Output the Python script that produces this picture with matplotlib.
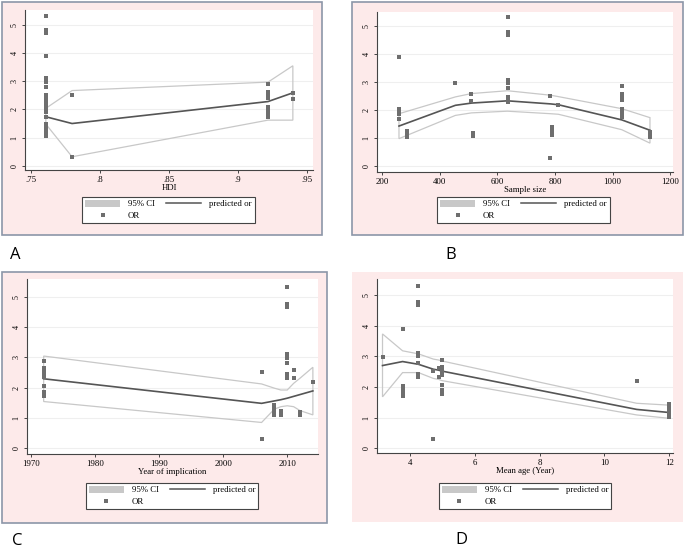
import numpy as np
import matplotlib
matplotlib.use("Agg")
import matplotlib.pyplot as plt
from matplotlib.patches import Rectangle, Patch
from matplotlib.lines import Line2D

# ---- Panel A: HDI ----
a_x = [0.761] * 21 + [0.78, 0.78] + [0.922] * 8 + [0.94, 0.94]
a_or = [5.33, 4.82, 4.70, 3.90, 3.10, 2.99, 2.78,
        2.50, 2.40, 2.30, 2.20, 2.10, 2.00, 1.90, 1.74, 1.50, 1.39, 1.30, 1.20, 1.10, 1.04,
        2.51, 0.32,
        2.89, 2.63, 2.51, 2.39, 2.10, 2.00, 1.86, 1.74,
        2.59, 2.36]
a_fx = [0.761, 0.78, 0.922, 0.94]
a_fit = [1.74, 1.50, 2.28, 2.59]
a_hi = [2.04, 2.67, 2.97, 3.55]
a_lo = [1.48, 0.32, 1.62, 1.62]

# ---- Panel B: Sample size ----
b_x = [258] * 5 + [285] * 3 + [454] + [508, 508] + [514, 514] + [635] * 9 + [783, 783] \
      + [789] * 4 + [812] + [1032] * 7 + [1130] * 3
b_or = [3.88, 2.05, 1.93, 1.85, 1.69,
        1.25, 1.15, 1.05,
        2.98,
        2.57, 2.32,
        1.19, 1.07,
        5.31, 4.80, 4.68, 3.07, 2.97, 2.77, 2.47, 2.37, 2.29,
        2.49, 0.29,
        1.40, 1.30, 1.20, 1.10,
        2.17,
        2.86, 2.59, 2.47, 2.37, 2.05, 1.90, 1.75,
        1.22, 1.13, 1.04]
b_fx = [258, 454, 510, 635, 785, 812, 1032, 1130]
b_fit = [1.43, 2.17, 2.25, 2.33, 2.22, 2.19, 1.65, 1.28]
b_hi = [1.87, 2.47, 2.59, 2.69, 2.53, 2.48, 2.05, 1.73]
b_lo = [0.98, 1.81, 1.90, 1.96, 1.87, 1.85, 1.30, 0.82]

# ---- Panel C: Year of implication ----
c_x = [1972] * 8 + [2006, 2006] + [2008] * 4 + [2009, 2009] + [2010] * 8 \
      + [2011, 2011] + [2012, 2012] + [2014]
c_or = [2.89, 2.64, 2.54, 2.44, 2.36, 2.05, 1.87, 1.73,
        2.51, 0.30,
        1.43, 1.32, 1.21, 1.10,
        1.23, 1.10,
        5.31, 4.76, 4.65, 3.11, 2.97, 2.80, 2.44, 2.33,
        2.58, 2.33,
        1.21, 1.08,
        2.20]
c_fx = [1972, 2006, 2008, 2009, 2010, 2011, 2012, 2014]
c_fit = [2.29, 1.48, 1.56, 1.60, 1.65, 1.71, 1.77, 1.89]
c_hi = [3.04, 2.12, 1.98, 1.92, 1.92, 2.14, 2.31, 2.67]
c_lo = [1.54, 0.85, 1.29, 1.37, 1.40, 1.37, 1.24, 1.10]

# ---- Panel D: Mean age ----
d_x = [3.15] + [3.77] * 5 + [4.26] * 8 + [4.72, 4.72] + [4.88, 4.88] + [4.98] * 7 \
      + [11.0] + [12.0] * 5
d_or = [2.99,
        3.88, 2.03, 1.90, 1.79, 1.71,
        5.30, 4.78, 4.67, 3.12, 3.01, 2.79, 2.42, 2.32,
        2.53, 0.30,
        2.61, 2.34,
        2.88, 2.64, 2.53, 2.39, 2.07, 1.90, 1.77,
        2.20,
        1.45, 1.35, 1.25, 1.14, 1.03]
d_fx = [3.15, 3.77, 4.26, 4.72, 4.88, 4.98, 11.0, 12.0]
d_fit = [2.70, 2.83, 2.74, 2.58, 2.55, 2.52, 1.27, 1.17]
d_hi = [3.73, 3.18, 3.08, 2.91, 2.88, 2.85, 1.47, 1.41]
d_lo = [1.68, 2.47, 2.47, 2.28, 2.25, 2.21, 1.09, 0.98]

W, H = 685, 549
PINK = "#fdeaea"
BORDER = "#8c96a8"
MARK = "#6e6e6e"
FIT = "#555555"
CI = "#c8c8c8"
SERIF = ["Liberation Serif", "DejaVu Serif"]

fig = plt.figure(figsize=(W / 100, H / 100), dpi=100)
fig.patch.set_facecolor("white")


def fbox(x0, y0, x1, y1):
    # pixel box (top-left origin) -> figure fraction [l, b, w, h]
    return [x0 / W, 1 - y1 / H, (x1 - x0) / W, (y1 - y0) / H]


def panel(box, border):
    l, b, w, h = fbox(*box)
    fig.patches.append(Rectangle((l, b), w, h, transform=fig.transFigure,
                                 facecolor=PINK,
                                 edgecolor=BORDER if border else "none",
                                 linewidth=1.2, zorder=-5))


def draw(axbox, x, o, fx, fit, lo, hi, xlim, ylim, xticks, xlabels, xlabel, legbox):
    ax = fig.add_axes(fbox(*axbox))
    ax.set_zorder(1)
    ax.set_facecolor("white")
    poly_x = list(fx) + list(fx[::-1])
    poly_y = list(hi) + list(lo[::-1])
    ax.fill(poly_x, poly_y, facecolor="none", edgecolor=CI, linewidth=0.9, zorder=2)
    ax.plot(fx, fit, color=FIT, linewidth=1.2, zorder=3)
    ax.plot(x, o, linestyle="none", marker="s", markersize=3.0,
            color=MARK, markeredgewidth=0, zorder=4)
    ax.set_xlim(*xlim)
    ax.set_ylim(*ylim)
    ax.set_yticks([0, 1, 2, 3, 4, 5])
    ax.set_yticklabels(["0", "1", "2", "3", "4", "5"], rotation=90, va="center",
                       family=SERIF, fontsize=5.8)
    ax.set_xticks(xticks)
    ax.set_xticklabels(xlabels, family=SERIF, fontsize=6.3)
    ax.grid(axis="y", color="#efefef", linewidth=0.8)
    ax.set_axisbelow(True)
    for s in ["top", "right"]:
        ax.spines[s].set_visible(False)
    for s in ["left", "bottom"]:
        ax.spines[s].set_color("#444444")
        ax.spines[s].set_linewidth(0.8)
    ax.tick_params(length=2.5, width=0.7, color="#444444", pad=2)
    ax.set_xlabel(xlabel, family=SERIF, fontsize=6.3, labelpad=0)

    handles = [Patch(facecolor="#c8c8c8", edgecolor="none"),
               Line2D([], [], linestyle="none", marker="s", markersize=3.0,
                      color=MARK, markeredgewidth=0),
               Line2D([], [], color=FIT, linewidth=1.1)]
    labels = ["95% CI", "OR", "predicted or"]
    l, b, w, h = fbox(*legbox)
    leg = fig.legend(handles, labels, ncol=2, loc="center",
                     bbox_to_anchor=(l + w / 2, b + h / 2),
                     prop={"family": SERIF, "size": 6.3},
                     frameon=True, fancybox=False, edgecolor="#444444",
                     facecolor="white", framealpha=1,
                     handlelength=4.0, handleheight=0.9, borderpad=0.35,
                     labelspacing=0.35, columnspacing=1.3, handletextpad=0.9)
    leg.get_frame().set_linewidth(0.8)
    return ax


panel((2, 2, 322, 235), True)
panel((352, 2, 683, 235), True)
panel((2, 272, 327, 523), True)
panel((352, 272, 683, 522), False)

draw((25, 10, 313, 170), a_x, a_or, a_fx, a_fit, a_lo, a_hi,
     (0.7459, 0.9546), (-0.15, 5.53),
     [0.75, 0.8, 0.85, 0.9, 0.95], [".75", ".8", ".85", ".9", ".95"], "HDI",
     (92, 197, 245, 223))

draw((377, 12, 673, 172), b_x, b_or, b_fx, b_fit, b_lo, b_hi,
     (181.6, 1210), (-0.21, 5.5),
     [200, 400, 600, 800, 1000, 1200], ["200", "400", "600", "800", "1000", "1200"],
     "Sample size", (445, 197, 602, 223))

draw((27, 279, 318, 454), c_x, c_or, c_fx, c_fit, c_lo, c_hi,
     (1969.4, 2014.8), (-0.19, 5.58),
     [1970, 1980, 1990, 2000, 2010], ["1970", "1980", "1990", "2000", "2010"],
     "Year of implication", (93, 482, 251, 510))

draw((377, 279, 673, 453), d_x, d_or, d_fx, d_fit, d_lo, d_hi,
     (2.98, 12.12), (-0.15, 5.52),
     [4, 6, 8, 10, 12], ["4", "6", "8", "10", "12"],
     "Mean age (Year)", (445, 482, 605, 510))

for lab, px, py in [("A", 10, 255), ("B", 445, 255), ("C", 12, 541), ("D", 455, 540)]:
    fig.text(px / W, 1 - py / H, lab, fontsize=12, family=["Open Sans", "DejaVu Sans"],
             ha="left", va="center")

fig.savefig("out.png", dpi=100)
